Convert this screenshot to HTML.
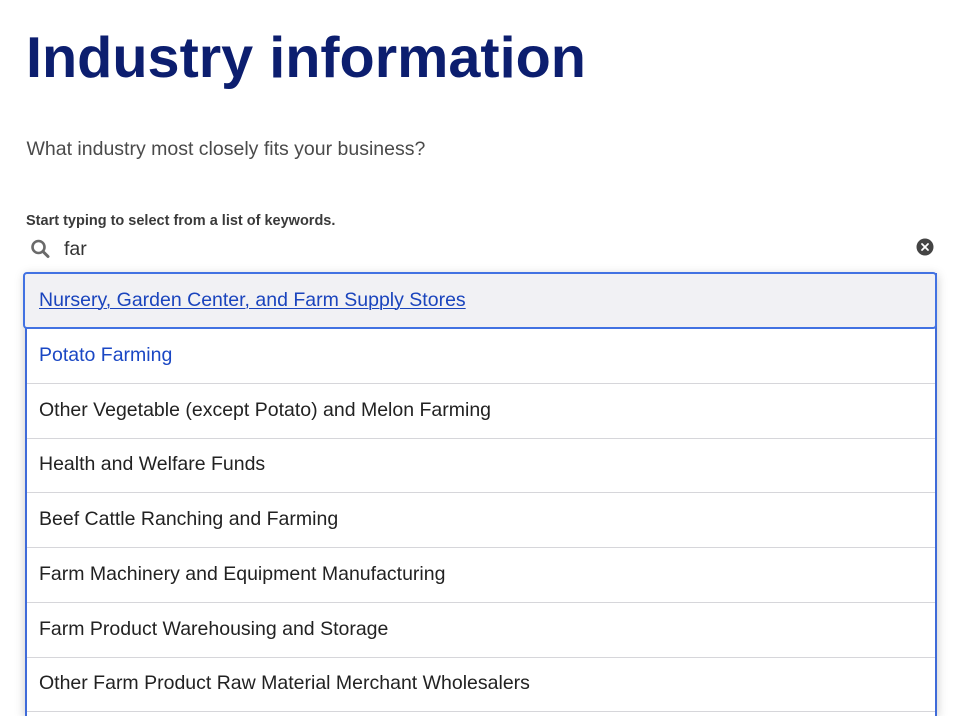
<!DOCTYPE html>
<html>
<head>
<meta charset="utf-8">
<style>
  html { margin:0; padding:0; width:960px; height:716px; overflow:hidden; background:#fff; }
  body { margin:0; padding:0; background:#fff; width:960px; height:716px; position:relative; overflow:hidden;
         font-family:"Liberation Sans", Arial, Helvetica, sans-serif; }
  .abs { position:absolute; white-space:nowrap; }
  h1 { position:absolute; margin:0; left:26px; top:30px; font-size:57.6px; line-height:57.6px;
       font-weight:bold; color:#0c1e6f; white-space:nowrap; letter-spacing:0; }
  .sub { left:26.5px; top:140px; font-size:19.5px; line-height:19.5px; color:#4a4a4a; }
  .lbl { left:26px; top:213.5px; font-size:14.5px; line-height:14.5px; font-weight:bold; color:#3a3a3a; }
  .far { left:64px; top:239.5px; font-size:19.5px; line-height:19.5px; color:#333; }
  .list { position:absolute; left:25px; top:273px; width:908px; height:443px;
          border-left:2px solid #3f6bd9; border-right:2px solid #3f6bd9;
          background:#fff; box-shadow:0 2px 10px rgba(0,0,0,0.22); }
  .focus { position:absolute; left:23px; top:272px; width:910px; height:53px;
           border:2.5px solid #4272e2; border-radius:4px; background:#f1f1f4; }
  .div { position:absolute; left:27px; width:908px; height:1px; background:#d6d6da; }
  .item { position:absolute; left:39px; font-size:19.5px; line-height:19.5px; color:#222; white-space:nowrap; }
  .blue { color:#1a47c4; }
  .u { text-decoration:underline; text-underline-offset:2px; text-decoration-thickness:1.3px; color:#1a44bd; }
</style>
</head>
<body>
  <h1>Industry information</h1>
  <div class="abs sub">What industry most closely fits your business?</div>
  <div class="abs lbl">Start typing to select from a list of keywords.</div>

  <svg class="abs" style="left:28px;top:237px" width="26" height="26" viewBox="0 0 26 26">
    <circle cx="10.5" cy="10" r="6" fill="none" stroke="#6a6a6a" stroke-width="2.6"/>
    <line x1="15" y1="14.5" x2="20" y2="19.5" stroke="#6a6a6a" stroke-width="3" stroke-linecap="round"/>
  </svg>
  <div class="abs far">far</div>

  <svg class="abs" style="left:915px;top:237px" width="20" height="20" viewBox="0 0 20 20">
    <circle cx="10" cy="10" r="8.5" fill="#444"/>
    <line x1="7" y1="7" x2="13" y2="13" stroke="#fff" stroke-width="1.8" stroke-linecap="round"/>
    <line x1="13" y1="7" x2="7" y2="13" stroke="#fff" stroke-width="1.8" stroke-linecap="round"/>
  </svg>

  <div class="list"></div>
  <div class="focus"></div>

  <div class="div" style="top:383px"></div>
  <div class="div" style="top:438px"></div>
  <div class="div" style="top:492px"></div>
  <div class="div" style="top:547px"></div>
  <div class="div" style="top:602px"></div>
  <div class="div" style="top:657px"></div>
  <div class="div" style="top:711px"></div>

  <div class="item u" style="top:290.5px">Nursery, Garden Center, and Farm Supply Stores</div>
  <div class="item blue" style="top:346px">Potato Farming</div>
  <div class="item" style="top:400.5px">Other Vegetable (except Potato) and Melon Farming</div>
  <div class="item" style="top:455px">Health and Welfare Funds</div>
  <div class="item" style="top:510px">Beef Cattle Ranching and Farming</div>
  <div class="item" style="top:564.5px">Farm Machinery and Equipment Manufacturing</div>
  <div class="item" style="top:619.5px">Farm Product Warehousing and Storage</div>
  <div class="item" style="top:674px">Other Farm Product Raw Material Merchant Wholesalers</div>
</body>
</html>
